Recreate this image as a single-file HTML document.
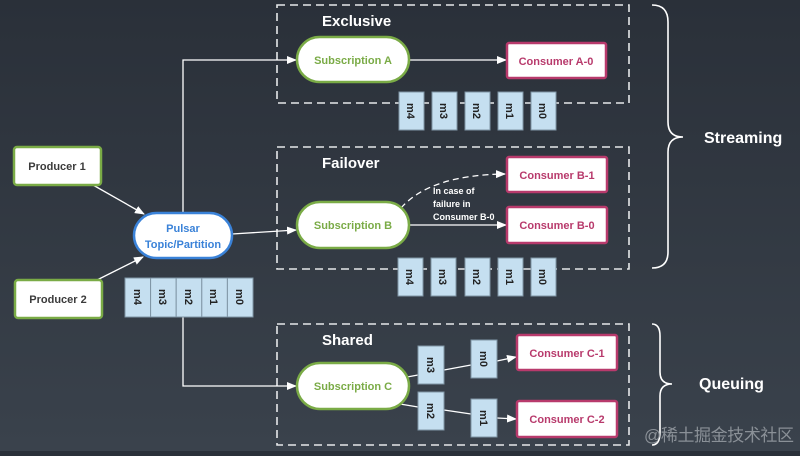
<!DOCTYPE html>
<html><head><meta charset="utf-8"><style>
html,body{margin:0;padding:0;}
body{width:800px;height:451px;overflow:hidden;background:linear-gradient(#2a3039,#3a424c);}
text{font-family:"Liberation Sans","Noto Sans CJK SC",sans-serif;font-weight:bold;}
</style></head><body>
<svg width="800" height="451" viewBox="0 0 800 451" xmlns="http://www.w3.org/2000/svg">
<defs>
<marker id="ar" markerWidth="10" markerHeight="8" refX="9" refY="4" orient="auto" markerUnits="userSpaceOnUse"><path d="M0,0 L10,4 L0,8 Z" fill="#fff"/></marker>
</defs>
<g fill="none" stroke="#e6e8ea" stroke-width="1.6" stroke-dasharray="8,5">
<rect x="277" y="5" width="352" height="98"/>
<rect x="277" y="147" width="352" height="122"/>
<rect x="277" y="324" width="352" height="121"/>
</g>
<g fill="none" stroke="#fff" stroke-width="1.6">
<path d="M652,5 Q668,5 668,22 L668,122 Q668,137 683,137 Q668,137 668,152 L668,252 Q668,268 652,268"/>
<path d="M652,324 Q660,324 660,336 L660,372 Q660,384 672,384 Q660,384 660,396 L660,432 Q660,445 652,445"/>
</g>
<g stroke="#fff" stroke-width="1.3" fill="none">
<path d="M183,213 L183,60 L296,60" marker-end="url(#ar)"/>
<path d="M183,317 L183,386 L296,386" marker-end="url(#ar)"/>
<path d="M93,185 L144,214" marker-end="url(#ar)"/>
<path d="M97,280 L143,257" marker-end="url(#ar)"/>
<path d="M232,234 L296,230" marker-end="url(#ar)"/>
<path d="M409,60 L506,60" marker-end="url(#ar)"/>
<path d="M409,225 L506,225" marker-end="url(#ar)"/>
<path d="M401,208 Q430,175 505,174" stroke-dasharray="6,4" marker-end="url(#ar)"/>
<path d="M407,377 L418,375"/><path d="M444,370 L471,365"/><path d="M497,361 L516,357" marker-end="url(#ar)"/>
<path d="M400,404 L418,407"/><path d="M444,410 L471,414"/><path d="M497,418 L516,419" marker-end="url(#ar)"/>
</g>
<g fill="#fff" stroke="#7aab46" stroke-width="2.5">
<rect x="14" y="147" width="87" height="38" rx="3"/>
<rect x="15" y="280" width="87" height="38" rx="3"/>
<rect x="297" y="37" width="112" height="45" rx="22.5"/>
<rect x="297" y="202" width="112" height="46" rx="23"/>
<rect x="297" y="363" width="112" height="46" rx="23"/>
</g>
<rect x="134" y="213" width="98" height="45" rx="22.5" fill="#fff" stroke="#3a82d8" stroke-width="2.5"/>
<g fill="#fff" stroke="#b83a6c" stroke-width="2.5">
<rect x="507" y="43" width="99" height="35" rx="2"/>
<rect x="507" y="157" width="100" height="35" rx="2"/>
<rect x="507" y="207" width="100" height="36" rx="2"/>
<rect x="517" y="335" width="100" height="35" rx="2"/>
<rect x="517" y="401" width="100" height="36" rx="2"/>
</g>
<g font-size="11" fill="#3b3b3b" text-anchor="middle">
<text x="57" y="170">Producer 1</text>
<text x="58" y="303">Producer 2</text>
</g>
<g font-size="11" fill="#7aab46" text-anchor="middle">
<text x="353" y="64">Subscription A</text>
<text x="353" y="229">Subscription B</text>
<text x="353" y="390">Subscription C</text>
</g>
<g font-size="11" fill="#3a82d8" text-anchor="middle">
<text x="183" y="232">Pulsar</text>
<text x="183" y="248">Topic/Partition</text>
</g>
<g font-size="11" fill="#b83a6c" text-anchor="middle">
<text x="556" y="65">Consumer A-0</text>
<text x="557" y="179">Consumer B-1</text>
<text x="557" y="229">Consumer B-0</text>
<text x="567" y="357">Consumer C-1</text>
<text x="567" y="423">Consumer C-2</text>
</g>
<g font-size="15" fill="#fff">
<text x="322" y="26">Exclusive</text>
<text x="322" y="168">Failover</text>
<text x="322" y="345">Shared</text>
<text x="704" y="143" font-size="16">Streaming</text>
<text x="699" y="389" font-size="16">Queuing</text>
</g>
<g font-size="9" fill="#fff">
<text x="433" y="194">In case of</text>
<text x="433" y="207">failure in</text>
<text x="433" y="220">Consumer B-0</text>
</g>
<g fill="#c5dff0" stroke="#7f95a5" stroke-width="1">
<rect x="399" y="92" width="25" height="38"/><rect x="432" y="92" width="25" height="38"/><rect x="465" y="92" width="25" height="38"/><rect x="498" y="92" width="25" height="38"/><rect x="531" y="92" width="25" height="38"/>
<rect x="398" y="258" width="25" height="38"/><rect x="431" y="258" width="25" height="38"/><rect x="465" y="258" width="25" height="38"/><rect x="498" y="258" width="25" height="38"/><rect x="531" y="258" width="25" height="38"/>
<rect x="125" y="278" width="25.6" height="39"/><rect x="150.6" y="278" width="25.6" height="39"/><rect x="176.2" y="278" width="25.6" height="39"/><rect x="201.8" y="278" width="25.6" height="39"/><rect x="227.4" y="278" width="25.6" height="39"/>
<rect x="418" y="346" width="26" height="38"/><rect x="418" y="392" width="26" height="38"/><rect x="471" y="340" width="26" height="38"/><rect x="471" y="399" width="26" height="38"/>
</g>
<g font-size="11" fill="#222" text-anchor="middle">
<text transform="translate(407,111) rotate(90)">m4</text><text transform="translate(440,111) rotate(90)">m3</text><text transform="translate(473,111) rotate(90)">m2</text><text transform="translate(506,111) rotate(90)">m1</text><text transform="translate(539,111) rotate(90)">m0</text>
<text transform="translate(406,277) rotate(90)">m4</text><text transform="translate(439,277) rotate(90)">m3</text><text transform="translate(473,277) rotate(90)">m2</text><text transform="translate(506,277) rotate(90)">m1</text><text transform="translate(539,277) rotate(90)">m0</text>
<text transform="translate(134,297) rotate(90)">m4</text><text transform="translate(159,297) rotate(90)">m3</text><text transform="translate(185,297) rotate(90)">m2</text><text transform="translate(210,297) rotate(90)">m1</text><text transform="translate(236,297) rotate(90)">m0</text>
<text transform="translate(427,365) rotate(90)">m3</text><text transform="translate(427,411) rotate(90)">m2</text><text transform="translate(480,359) rotate(90)">m0</text><text transform="translate(480,418) rotate(90)">m1</text>
</g>
<text x="644" y="441" font-size="17" textLength="150" fill="#8a9097" style="font-weight:normal">@稀土掘金技术社区</text>
</svg>
</body></html>
